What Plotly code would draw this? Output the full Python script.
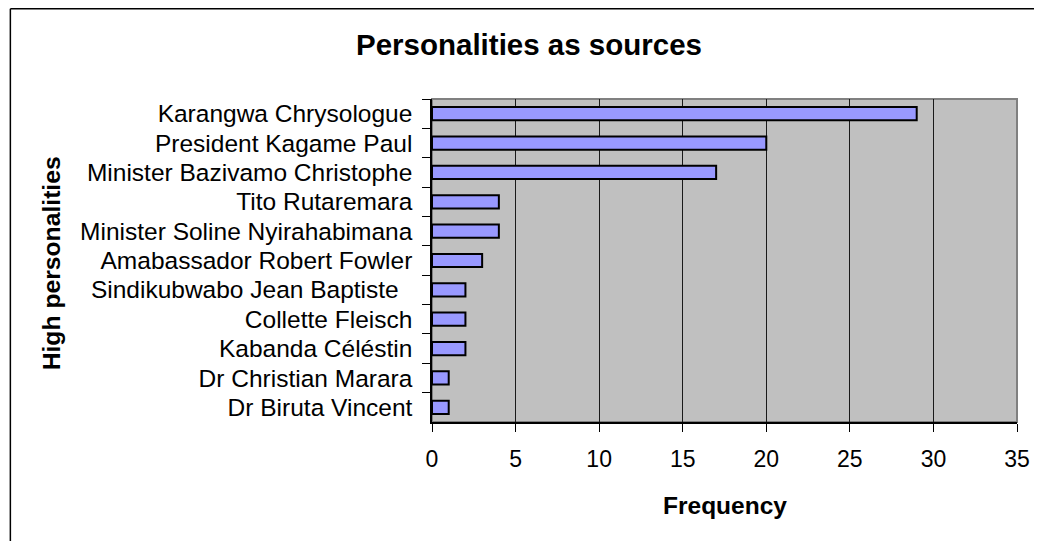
import plotly.graph_objects as go

# --- data (top to bottom, as in the chart) ---
people = [
    "Karangwa Chrysologue",
    "President Kagame Paul",
    "Minister Bazivamo Christophe",
    "Tito Rutaremara",
    "Minister Soline Nyirahabimana",
    "Amabassador Robert Fowler",
    "Sindikubwabo Jean Baptiste  ",
    "Collette Fleisch",
    "Kabanda Céléstin",
    "Dr Christian Marara",
    "Dr Biruta Vincent",
]
frequency = [29, 20, 17, 4, 4, 3, 2, 2, 2, 1, 1]
x_ticks = [0, 5, 10, 15, 20, 25, 30, 35]

# page body has an 8px margin, so the figure is shrunk and shifted
OFF = 8
W, H = 1042 - OFF, 541 - OFF
L, R, T, B = 432 - OFF, 24.5, 99 - OFF, 119
PW = W - L - R
PH = H - T - B


def px_x(p):
    # screen x -> paper x
    return (p - OFF - L) / PW


def px_y(p):
    # screen y -> paper y
    return (H - B - (p - OFF)) / PH


FONT = "Liberation Sans, Arial, sans-serif"

fig = go.Figure(go.Bar(
    y=people,
    x=frequency,
    orientation="h",
    width=0.45,
    marker=dict(color="#9999FF", line=dict(color="black", width=2)),
))

fig.update_layout(
    width=W, height=H,
    margin=dict(l=L, r=R, t=T, b=B, pad=0),
    paper_bgcolor="white",
    plot_bgcolor="#C0C0C0",
    showlegend=False,
    font=dict(family=FONT, color="black", size=23),
    xaxis=dict(
        range=[0, 35], tickvals=x_ticks, ticks="outside", ticklen=8,
        tickcolor="black", showline=True, linecolor="black", linewidth=1.5,
        showgrid=True, gridcolor="#1a1a1a", gridwidth=1, zeroline=False,
        tickfont=dict(size=23), ticklabelstandoff=8,
    ),
    yaxis=dict(
        autorange="reversed", ticks="outside", ticklen=8, tickcolor="black",
        tickson="boundaries", showline=True, linecolor="black", linewidth=1.5,
        showgrid=False, tickfont=dict(size=24.5), ticklabelstandoff=13,
    ),
)

# gray plot border (top / right)
fig.add_shape(type="rect", xref="paper", yref="paper", x0=0, x1=1, y0=0, y1=1,
              line=dict(color="#808080", width=2), layer="below")

# outer chart frame (left and top edges visible)
fig.add_shape(type="line", xref="paper", yref="paper",
              x0=px_x(10), x1=px_x(10), y0=px_y(8.75), y1=px_y(560),
              line=dict(color="black", width=1.5))
fig.add_shape(type="line", xref="paper", yref="paper",
              x0=px_x(10), x1=px_x(1060), y0=px_y(8.75), y1=px_y(8.75),
              line=dict(color="black", width=1.5))

# titles
fig.add_annotation(text="<b>Personalities as sources</b>", xref="paper", yref="paper",
                   x=px_x(529), y=px_y(44), showarrow=False,
                   font=dict(size=29.5), xanchor="center", yanchor="middle")
fig.add_annotation(text="<b>Frequency</b>", xref="paper", yref="paper",
                   x=px_x(725), y=px_y(505), showarrow=False,
                   font=dict(size=24.5), xanchor="center", yanchor="middle")
fig.add_annotation(text="<b>High personalities</b>", xref="paper", yref="paper",
                   x=px_x(51), y=px_y(263), showarrow=False, textangle=-90,
                   font=dict(size=24.7), xanchor="center", yanchor="middle")

fig.write_html("out.html")
